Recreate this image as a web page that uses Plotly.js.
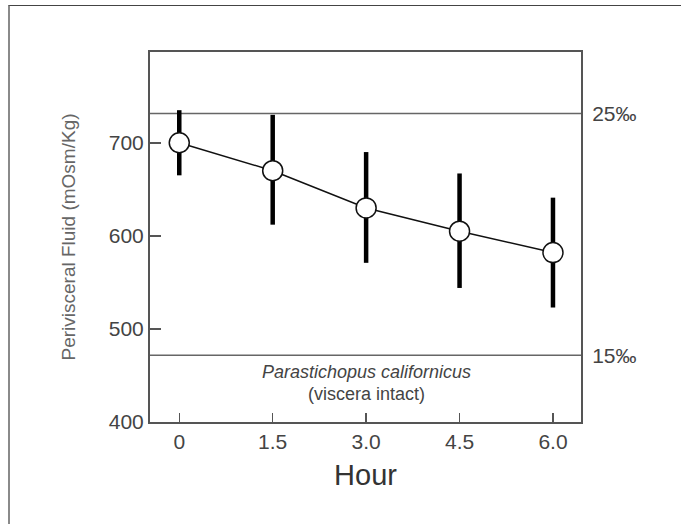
<!DOCTYPE html>
<html>
<head>
<meta charset="utf-8">
<script src="https://cdn.plot.ly/plotly-3.0.1.min.js"></script>
<style>
  html, body { margin: 0; padding: 0; background: #fff; }
  #wrap { position: relative; width: 681px; height: 524px; overflow: hidden; }
  #chart { position: absolute; left: 0; top: 0; width: 681px; height: 524px; }
  #frame { position: absolute; left: 8px; top: 5px; width: 680px; height: 530px;
           border-top: 1.5px solid #444; border-left: 2px solid #8a8a8a; pointer-events: none; }
</style>
</head>
<body>
<div id="wrap">
  <div id="chart"></div>
  <div id="frame"></div>
</div>
<script>
// Data
const hours = [0, 1.5, 3.0, 4.5, 6.0];
const hourLabels = ["0", "1.5", "3.0", "4.5", "6.0"];
const osmolality = [700, 670, 630, 605, 582];
const errPlus = [35, 60, 60, 62, 59];
const errMinus = [35, 58, 59, 61, 59];
const yTicks = [400, 500, 600, 700];
const salinityLevels = [731.5, 471.7];
const salinityLabels = ["25‰", "15‰"];

const font = "Liberation Sans, Arial, Helvetica, sans-serif";

const trace = {
  x: hours,
  y: osmolality,
  type: "scatter",
  mode: "lines+markers",
  line: { color: "#111", width: 1.5 },
  marker: { symbol: "circle", size: 20, color: "#fff", line: { color: "#111", width: 1.5 } },
  error_y: { type: "data", array: errPlus, arrayminus: errMinus, symmetric: false,
             color: "#000", thickness: 4.5, width: 0 },
  showlegend: false,
  hoverinfo: "skip"
};

// invisible trace to anchor the right-side axis
const rightTrace = {
  x: [hours[0]], y: [osmolality[0]], yaxis: "y2", type: "scatter", mode: "markers",
  marker: { opacity: 0 }, showlegend: false, hoverinfo: "skip"
};

const shapes = salinityLevels.map(v => ({
  type: "line", xref: "paper", yref: "y", x0: 0, x1: 1, y0: v, y1: v,
  line: { color: "#666", width: 1.5 }, layer: "below"
}));

const layout = {
  width: 681, height: 524,
  margin: { l: 150, r: 100, t: 52, b: 102 },
  paper_bgcolor: "#fff", plot_bgcolor: "#fff",
  font: { family: font, color: "#333" },
  xaxis: {
    range: [-0.47, 6.45],
    tickvals: hours, ticktext: hourLabels,
    ticks: "inside", ticklen: 9, tickwidth: 1.5, tickcolor: "#555",
    showline: true, linecolor: "#555", linewidth: 2, mirror: true,
    showgrid: false, zeroline: false,
    tickfont: { size: 21, color: "#444" },
    title: { text: "Hour", font: { size: 29, color: "#333" }, standoff: 12 }
  },
  yaxis: {
    range: [400, 797.5],
    tickvals: yTicks,
    ticks: "inside", ticklen: 11, tickwidth: 1.5, tickcolor: "#555",
    showline: true, linecolor: "#555", linewidth: 2, mirror: true,
    showgrid: false, zeroline: false,
    tickfont: { size: 21, color: "#444" },
    title: { text: "Perivisceral Fluid (mOsm/Kg)", font: { size: 19, color: "#666" }, standoff: 28 }
  },
  yaxis2: {
    overlaying: "y", side: "right", range: [400, 797.5],
    tickvals: salinityLevels, ticktext: salinityLabels,
    ticks: "outside", ticklen: 6, tickcolor: "rgba(0,0,0,0)",
    showline: false, showgrid: false, zeroline: false,
    tickfont: { size: 21, color: "#444" }
  },
  shapes: shapes,
  annotations: [
    { x: 3.0, y: 454, xref: "x", yref: "y", text: "<i>Parastichopus californicus</i>",
      showarrow: false, font: { size: 18, color: "#444" } },
    { x: 3.0, y: 430, xref: "x", yref: "y", text: "(viscera intact)",
      showarrow: false, font: { size: 18, color: "#444" } }
  ]
};

Plotly.newPlot("chart", [trace, rightTrace], layout, { displayModeBar: false, staticPlot: true });
</script>
</body>
</html>
